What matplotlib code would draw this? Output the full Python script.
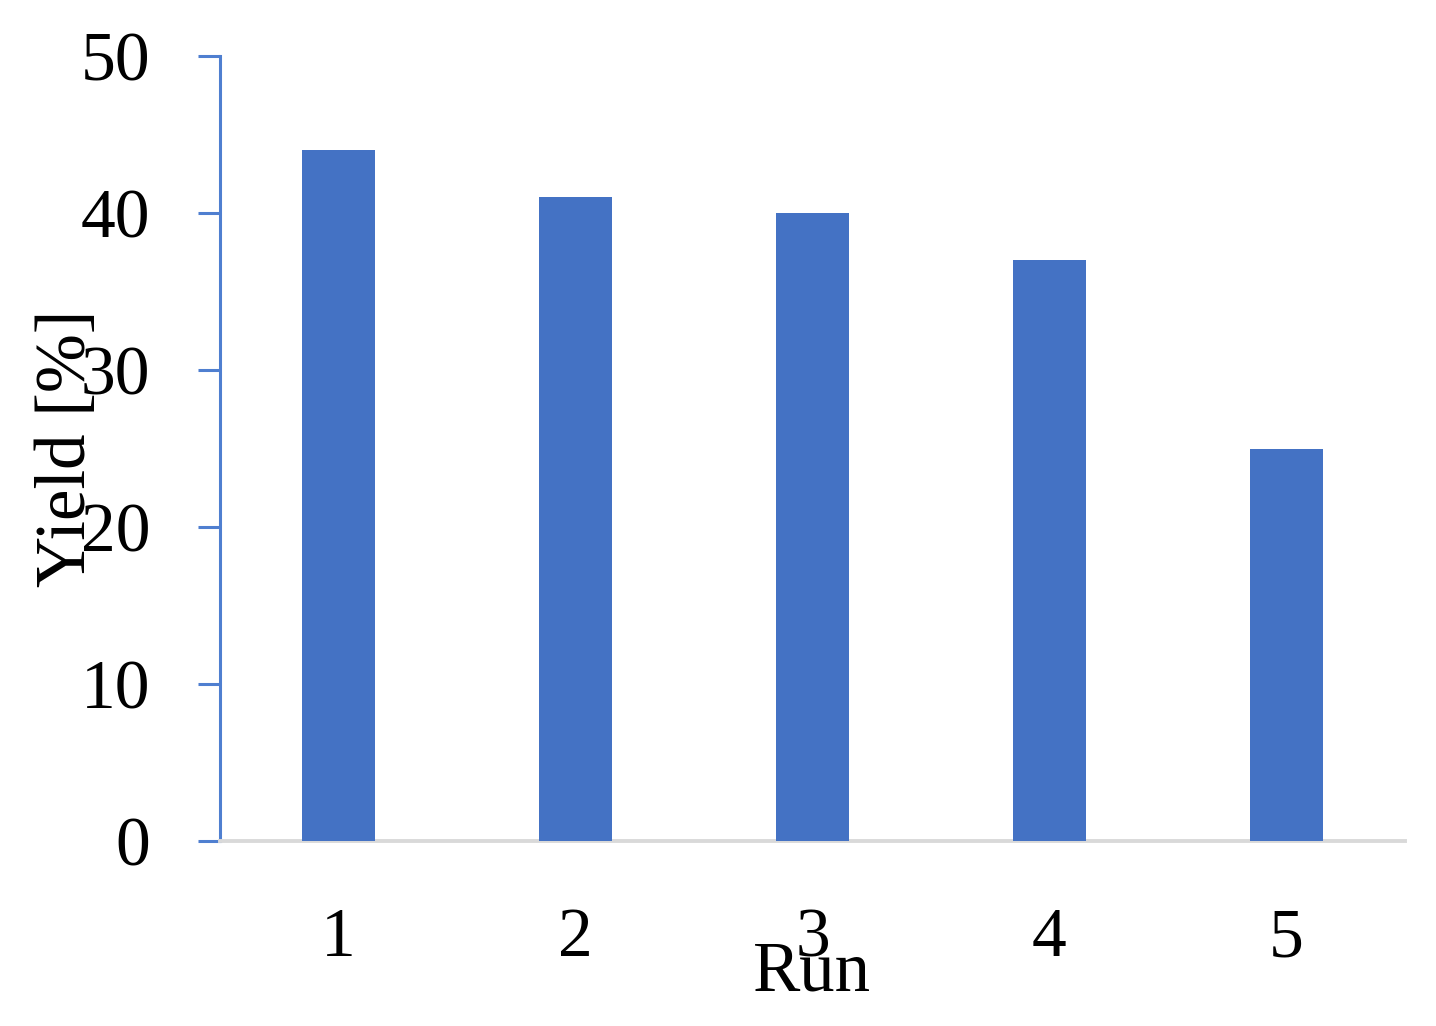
import matplotlib
matplotlib.use("Agg")
import matplotlib.pyplot as plt

runs = ["1", "2", "3", "4", "5"]
yields = [44, 41, 40, 37, 25]
yticks = [0, 10, 20, 30, 40, 50]

plt.rcParams['font.family'] = ['Liberation Serif', 'DejaVu Serif']

fig = plt.figure(figsize=(14.36, 10.26), dpi=100)
ax = fig.add_axes([0.1532, 0.1803, 0.8252, 0.7651])

x = range(len(runs))
ax.bar(x, yields, width=0.31, color="#4472C4", zorder=3)

ax.set_xlim(-0.5, len(runs) - 0.5)
ax.set_ylim(0, 50)
ax.set_yticks(yticks)
ax.set_xticks(list(x))
ax.set_xticklabels(runs)

for s in ["top", "right"]:
    ax.spines[s].set_visible(False)
ax.spines["left"].set_color("#4F7FD0")
ax.spines["left"].set_linewidth(2.2)
ax.spines["bottom"].set_color("#D9D9D9")
ax.spines["bottom"].set_linewidth(2.8)

ax.tick_params(axis="y", direction="out", length=16, width=2.2, color="#4F7FD0",
               labelsize=50, pad=34)
ax.tick_params(axis="x", length=0, labelsize=50, pad=48)

ax.set_xlabel("Run", fontsize=51, labelpad=-22)
ax.set_ylabel("Yield [%]", fontsize=51, labelpad=-14)

fig.savefig("out.png", dpi=100)
